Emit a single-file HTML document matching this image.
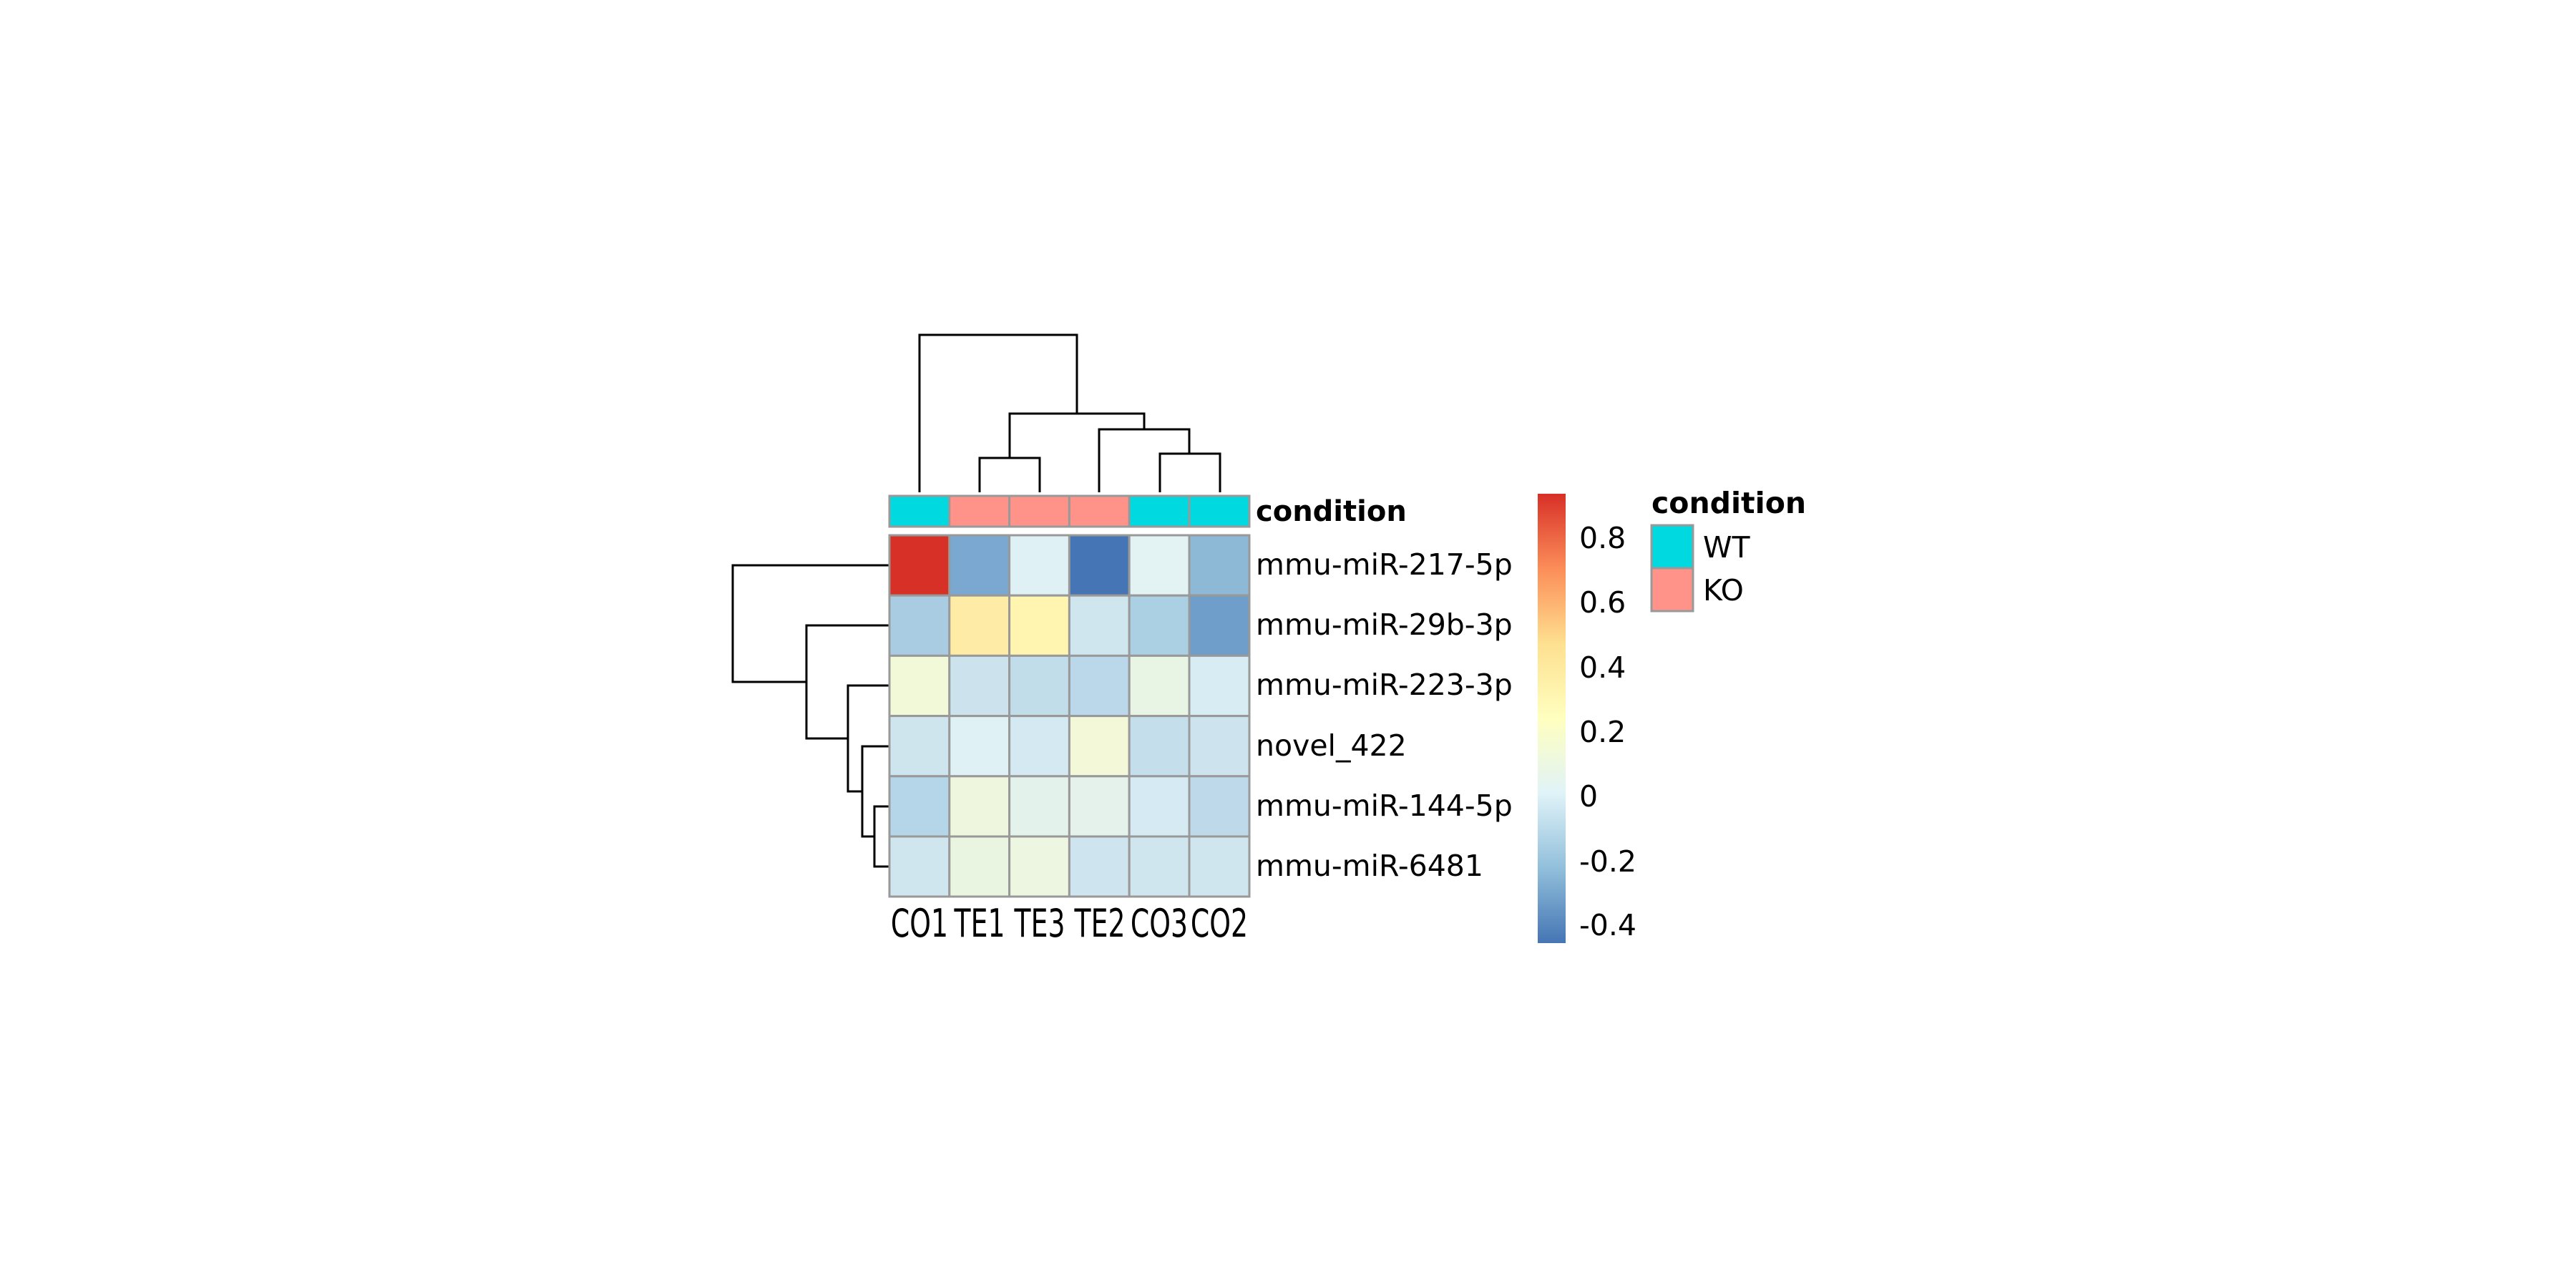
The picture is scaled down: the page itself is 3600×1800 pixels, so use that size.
<!DOCTYPE html>
<html><head><meta charset="utf-8"><style>html,body{margin:0;padding:0;background:#fff}svg{display:block}</style></head>
<body>
<svg width="3600" height="1800" viewBox="0 0 3600 1800" xmlns="http://www.w3.org/2000/svg" font-family="DejaVu Sans, Liberation Sans, sans-serif">
<defs>
<linearGradient id="cb" x1="0" y1="1" x2="0" y2="0">
<stop offset="0" stop-color="#4575B4"/>
<stop offset="0.1667" stop-color="#91BFDB"/>
<stop offset="0.3333" stop-color="#E0F3F8"/>
<stop offset="0.5" stop-color="#FFFFBF"/>
<stop offset="0.6667" stop-color="#FEE090"/>
<stop offset="0.8333" stop-color="#FC8D59"/>
<stop offset="1" stop-color="#D73027"/>
</linearGradient>
</defs>
<rect width="3600" height="1800" fill="#fff"/>
<g stroke="#000" stroke-width="3" fill="none">
<path d="M1285 688 V468 H1505 V578"/>
<path d="M1411 640 V578 H1599 V600"/>
<path d="M1369 688 V640 H1453 V688"/>
<path d="M1536 688 V600 H1662 V634"/>
<path d="M1621 688 V634 H1705 V688"/>
<path d="M1243 790 H1024 V953 H1127"/>
<path d="M1243 874 H1127 V1032 H1185"/>
<path d="M1243 958 H1185 V1106 H1205"/>
<path d="M1243 1043 H1205 V1169 H1222"/>
<path d="M1243 1127 H1222 V1211 H1243"/>
</g>
<g stroke="#999" stroke-width="3">
<rect x="1243" y="693" width="83.8" height="43" fill="#00D9E0"/>
<rect x="1326.8" y="693" width="83.8" height="43" fill="#FF938A"/>
<rect x="1410.6" y="693" width="83.8" height="43" fill="#FF938A"/>
<rect x="1494.4" y="693" width="83.8" height="43" fill="#FF938A"/>
<rect x="1578.2" y="693" width="83.8" height="43" fill="#00D9E0"/>
<rect x="1662" y="693" width="84" height="43" fill="#00D9E0"/>
</g>
<text x="1755" y="728" font-size="40" font-weight="bold">condition</text>
<g stroke="#999" stroke-width="3">
<rect x="1243" y="748" width="83.8" height="84.2" fill="#D73027"/>
<rect x="1326.8" y="748" width="83.8" height="84.2" fill="#7AA8D0"/>
<rect x="1410.6" y="748" width="83.8" height="84.2" fill="#E0F1F5"/>
<rect x="1494.4" y="748" width="83.8" height="84.2" fill="#4575B4"/>
<rect x="1578.2" y="748" width="83.8" height="84.2" fill="#E3F2F2"/>
<rect x="1662" y="748" width="84" height="84.2" fill="#8DB8D6"/>

<rect x="1243" y="832.2" width="83.8" height="84.2" fill="#A9CCE2"/>
<rect x="1326.8" y="832.2" width="83.8" height="84.2" fill="#FEEBA6"/>
<rect x="1410.6" y="832.2" width="83.8" height="84.2" fill="#FFF4B0"/>
<rect x="1494.4" y="832.2" width="83.8" height="84.2" fill="#D0E6EF"/>
<rect x="1578.2" y="832.2" width="83.8" height="84.2" fill="#ABCFE3"/>
<rect x="1662" y="832.2" width="84" height="84.2" fill="#6F9ECA"/>

<rect x="1243" y="916.4" width="83.8" height="84.2" fill="#F1F9D9"/>
<rect x="1326.8" y="916.4" width="83.8" height="84.2" fill="#CCE3EE"/>
<rect x="1410.6" y="916.4" width="83.8" height="84.2" fill="#C1DDEA"/>
<rect x="1494.4" y="916.4" width="83.8" height="84.2" fill="#BAD8E9"/>
<rect x="1578.2" y="916.4" width="83.8" height="84.2" fill="#E8F5E4"/>
<rect x="1662" y="916.4" width="84" height="84.2" fill="#D8EDF3"/>

<rect x="1243" y="1000.6" width="83.8" height="84.2" fill="#CFE5EE"/>
<rect x="1326.8" y="1000.6" width="83.8" height="84.2" fill="#DFF1F5"/>
<rect x="1410.6" y="1000.6" width="83.8" height="84.2" fill="#D4E9F1"/>
<rect x="1494.4" y="1000.6" width="83.8" height="84.2" fill="#F3F9D8"/>
<rect x="1578.2" y="1000.6" width="83.8" height="84.2" fill="#C5DEEB"/>
<rect x="1662" y="1000.6" width="84" height="84.2" fill="#CDE3EE"/>

<rect x="1243" y="1084.8" width="83.8" height="84.2" fill="#B5D5E8"/>
<rect x="1326.8" y="1084.8" width="83.8" height="84.2" fill="#EEF7DD"/>
<rect x="1410.6" y="1084.8" width="83.8" height="84.2" fill="#E3F2EB"/>
<rect x="1494.4" y="1084.8" width="83.8" height="84.2" fill="#E4F2EB"/>
<rect x="1578.2" y="1084.8" width="83.8" height="84.2" fill="#D5EAF2"/>
<rect x="1662" y="1084.8" width="84" height="84.2" fill="#BED9EA"/>

<rect x="1243" y="1169" width="83.8" height="84" fill="#CFE6EF"/>
<rect x="1326.8" y="1169" width="83.8" height="84" fill="#EAF5E1"/>
<rect x="1410.6" y="1169" width="83.8" height="84" fill="#ECF6E0"/>
<rect x="1494.4" y="1169" width="83.8" height="84" fill="#CEE4EE"/>
<rect x="1578.2" y="1169" width="83.8" height="84" fill="#D0E6EF"/>
<rect x="1662" y="1169" width="84" height="84" fill="#D0E6EF"/>
</g>
<g font-size="41" fill="#000">
<text x="1755" y="803">mmu-miR-217-5p</text>
<text x="1755" y="887">mmu-miR-29b-3p</text>
<text x="1755" y="971">mmu-miR-223-3p</text>
<text x="1755" y="1056">novel_422</text>
<text x="1755" y="1140">mmu-miR-144-5p</text>
<text x="1755" y="1224">mmu-miR-6481</text>
</g>
<g font-size="54" fill="#000" text-anchor="middle">
<text transform="translate(1285 1309) scale(0.7 1)">CO1</text>
<text transform="translate(1369 1309) scale(0.7 1)">TE1</text>
<text transform="translate(1453 1309) scale(0.7 1)">TE3</text>
<text transform="translate(1537 1309) scale(0.7 1)">TE2</text>
<text transform="translate(1620 1309) scale(0.7 1)">CO3</text>
<text transform="translate(1704 1309) scale(0.7 1)">CO2</text>
</g>
<rect x="2149" y="690" width="39" height="628" fill="url(#cb)"/>
<g font-size="41" fill="#000">
<text x="2207" y="766">0.8</text>
<text x="2207" y="856">0.6</text>
<text x="2207" y="947">0.4</text>
<text x="2207" y="1037">0.2</text>
<text x="2207" y="1127">0</text>
<text x="2207" y="1218">-0.2</text>
<text x="2207" y="1307">-0.4</text>
</g>
<text x="2308" y="717" font-size="41" font-weight="bold">condition</text>
<rect x="2308" y="734" width="58" height="60" fill="#00D9E0" stroke="#999" stroke-width="3"/>
<rect x="2308" y="794" width="58" height="60" fill="#FF938A" stroke="#999" stroke-width="3"/>
<text x="2380" y="779" font-size="41">WT</text>
<text x="2380" y="839" font-size="41">KO</text>
</svg>
</body></html>
